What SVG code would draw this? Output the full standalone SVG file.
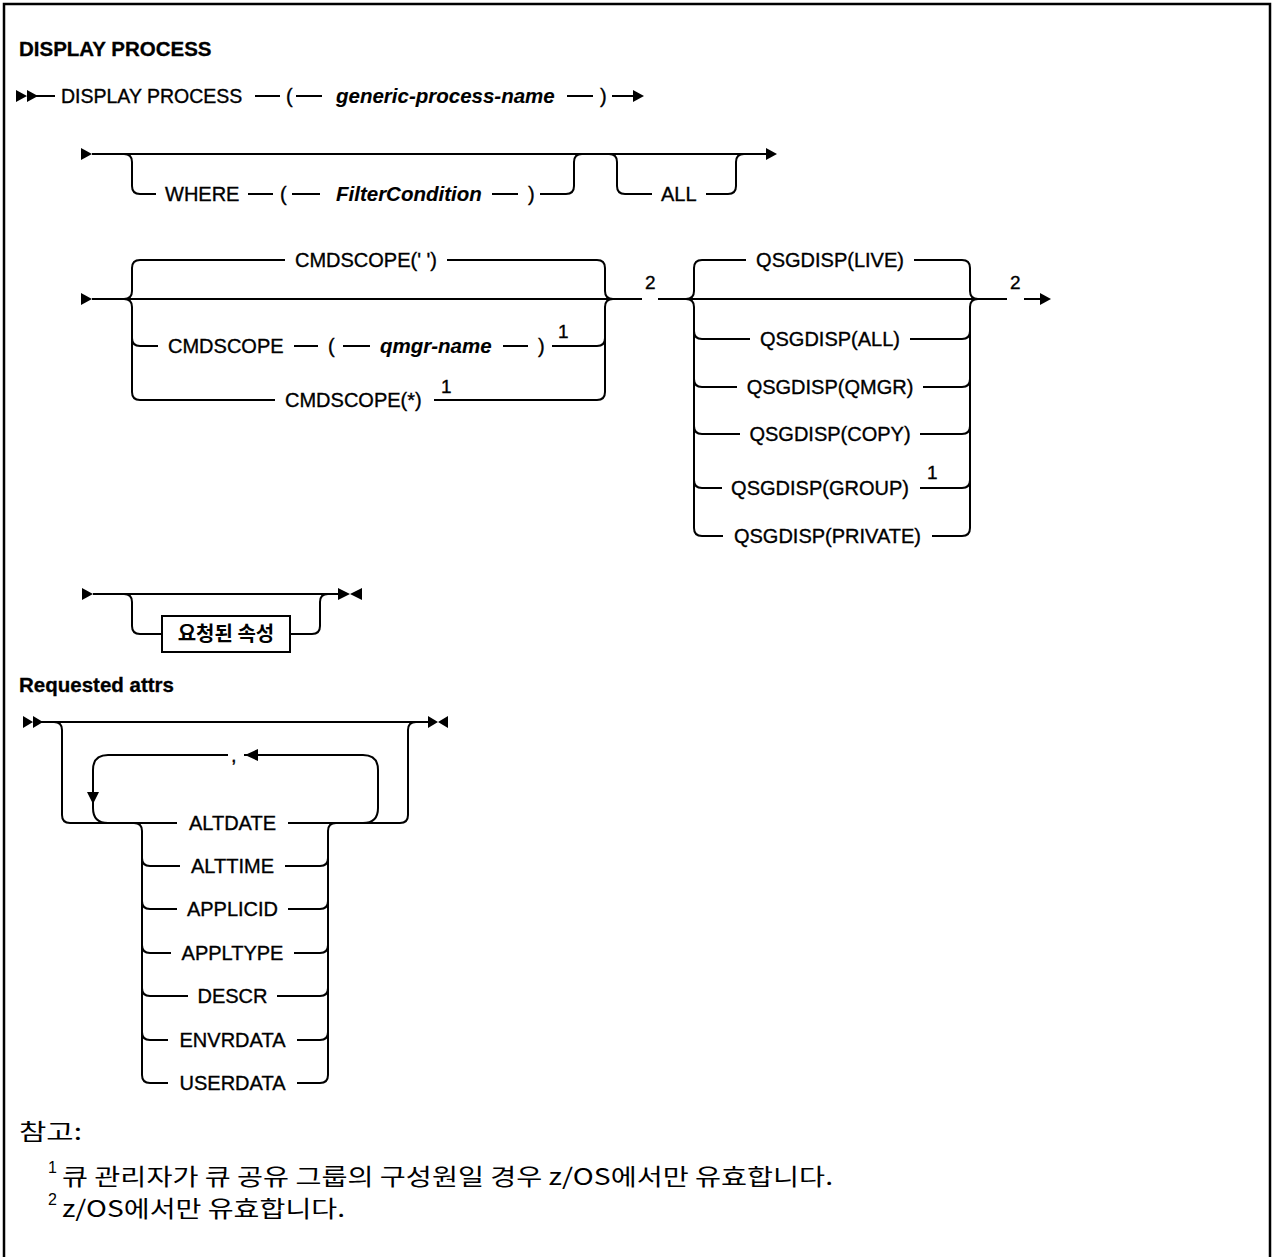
<svg xmlns="http://www.w3.org/2000/svg" width="1272" height="1257" viewBox="0 0 1272 1257">
<style>
.l{fill:none;stroke:#000;stroke-width:2}
.a{fill:#000;stroke:none}
.t{font-family:"Liberation Sans",Arial,sans-serif;font-size:20px;fill:#000;stroke:#000;stroke-width:0.35}
.c{text-anchor:middle}
.v{font-style:italic;font-weight:bold;font-size:20.5px;stroke-width:0.1}
.s{font-size:19px}
.h{font-family:"Liberation Sans",Arial,sans-serif;font-size:20.5px;font-weight:bold;fill:#000;stroke:#000;stroke-width:0.3}
.k{font-family:"Noto Sans CJK KR",sans-serif;font-size:23px;fill:#000}
.kb{font-family:"Noto Sans CJK KR",sans-serif;font-size:20px;font-weight:bold;fill:#000}
</style>
<rect width="1272" height="1257" fill="#fff"/>
<path d="M4,1257 V4 H1270 V1257" fill="none" stroke="#000" stroke-width="2.5"/>

<g id="title"><text class="h" x="19" y="56">DISPLAY PROCESS</text></g>

<g id="connectors">
  <!-- row 1 -->
  <path class="a" d="M16,90 L27,96 L16,102Z M27,90 L38,96 L27,102Z"/>
  <path class="l" d="M36,96 H55 M255,96 H280 M296,96 H322 M567,96 H593 M612,96 H634"/>
  <path class="a" d="M633,90 L644,96 L633,102Z"/>
  <!-- row 2 -->
  <path class="a" d="M81,148 L92,154 L81,160Z"/>
  <path class="l" d="M92,154 H767"/>
  <path class="a" d="M766,148 L777,154 L766,160Z"/>
  <path class="l" d="M124,154 Q132,154 132,162 V186 Q132,194 140,194 H156 M248,194 H273 M292,194 H320 M492,194 H518 M540,194 H566 Q574,194 574,186 V162 Q574,154 582,154"/>
  <path class="l" d="M609,154 Q617,154 617,162 V186 Q617,194 625,194 H652 M706,194 H728 Q736,194 736,186 V162 Q736,154 744,154"/>
  <!-- row 3 cmdscope -->
  <path class="a" d="M81,293 L92,299 L81,305Z"/>
  <path class="l" d="M92,299 H642 M658,299 H1007 M1024,299 H1040"/>
  <path class="a" d="M1040,293 L1051,299 L1040,305Z"/>
  <path class="l" d="M124,299 Q132,299 132,291 V268 Q132,260 140,260 H285 M447,260 H597 Q605,260 605,268 V291 Q605,299 613,299"/>
  <path class="l" d="M124,299 Q132,299 132,307 V392 Q132,400 140,400 H275 M132,338 Q132,346 140,346 H158"/>
  <path class="l" d="M294,346 H318 M343,346 H370 M503,346 H528 M552,346 H597 Q605,346 605,338 M434,400 H597 Q605,400 605,392 V307 Q605,299 613,299"/>
  <!-- qsgdisp -->
  <path class="l" d="M686,299 Q694,299 694,291 V268 Q694,260 702,260 H746 M914,260 H962 Q970,260 970,268 V291 Q970,299 978,299"/>
  <path class="l" d="M686,299 Q694,299 694,307 V528 Q694,536 702,536 H723 M694,331 Q694,339 702,339 H750 M694,379 Q694,387 702,387 H737 M694,426 Q694,434 702,434 H740 M694,480 Q694,488 702,488 H722"/>
  <path class="l" d="M978,299 Q970,299 970,307 V528 Q970,536 962,536 H932 M910,339 H962 Q970,339 970,331 M923,387 H962 Q970,387 970,379 M920,434 H962 Q970,434 970,426 M920,488 H962 Q970,488 970,480"/>
  <!-- row 4 -->
  <path class="a" d="M82,588 L93,594 L82,600Z"/>
  <path class="l" d="M93,594 H338"/>
  <path class="a" d="M338,588 L350,594 L338,600Z M362,588 L350,594 L362,600Z"/>
  <path class="l" d="M124,594 Q132,594 132,602 V626 Q132,634 140,634 H162 M290,634 H312 Q320,634 320,626 V602 Q320,594 328,594"/>
  <!-- requested attrs -->
  <path class="a" d="M23,716 L33,722 L23,728Z M33,716 L43,722 L33,728Z"/>
  <path class="l" d="M41,722 H428"/>
  <path class="a" d="M428,716 L438,722 L428,728Z M448,716 L438,722 L448,728Z"/>
  <path class="l" d="M54,722 Q62,722 62,730 V815 Q62,823 70,823 H177 M288,823 H400 Q408,823 408,815 V730 Q408,722 416,722"/>
  <path class="l" d="M363,823 Q378,823 378,808 V770 Q378,755 363,755 H244 M228,755 H108 Q93,755 93,770 V808 Q93,823 108,823"/>
  <path class="a" d="M245,755 L258,749 L258,761Z M87,792 L99,792 L93,804Z"/>
  <path class="l" d="M134,823 Q142,823 142,831 V1075 Q142,1083 150,1083 H168 M142,858 Q142,866 150,866 H180 M142,901 Q142,909 150,909 H177 M142,945 Q142,953 150,953 H171 M142,988 Q142,996 150,996 H188 M142,1032 Q142,1040 150,1040 H168"/>
  <path class="l" d="M336,823 Q328,823 328,831 V1075 Q328,1083 320,1083 H297 M285,866 H320 Q328,866 328,858 M288,909 H320 Q328,909 328,901 M294,953 H320 Q328,953 328,945 M277,996 H320 Q328,996 328,988 M297,1040 H320 Q328,1040 328,1032"/>
</g>

<g id="n-display"><text class="t" x="61" y="103" style="font-size:19.5px">DISPLAY PROCESS</text></g>
<g id="n-p1"><text class="t" x="286" y="103">(</text></g>
<g id="n-generic"><text class="t v" x="336" y="103">generic-process-name</text></g>
<g id="n-p2"><text class="t" x="600" y="103">)</text></g>

<g id="n-where"><text class="t" x="165" y="201">WHERE</text><text class="t" x="280" y="201">(</text><text class="t v" x="336" y="201">FilterCondition</text><text class="t" x="528" y="201">)</text></g>
<g id="n-all"><text class="t" x="661" y="201">ALL</text></g>

<g id="n-cmd-default"><text class="t c" x="366" y="267">CMDSCOPE(' ')</text></g>
<g id="n-cmd-qmgr"><text class="t" x="168" y="353">CMDSCOPE</text><text class="t" x="328" y="353">(</text><text class="t v" x="380" y="353">qmgr-name</text><text class="t" x="538" y="353">)</text><text class="t s" x="558" y="338">1</text></g>
<g id="n-cmd-star"><text class="t" x="285" y="407">CMDSCOPE(*)</text><text class="t s" x="441" y="393">1</text></g>
<g id="n-note2a"><text class="t s" x="645" y="289">2</text></g>

<g id="n-live"><text class="t c" x="830" y="267">QSGDISP(LIVE)</text></g>
<g id="n-qall"><text class="t c" x="830" y="346">QSGDISP(ALL)</text></g>
<g id="n-qmgr"><text class="t c" x="830" y="394">QSGDISP(QMGR)</text></g>
<g id="n-copy"><text class="t c" x="830" y="441">QSGDISP(COPY)</text></g>
<g id="n-group"><text class="t c" x="820" y="495">QSGDISP(GROUP)</text><text class="t s" x="927" y="479">1</text></g>
<g id="n-private"><text class="t c" x="827.5" y="543">QSGDISP(PRIVATE)</text></g>
<g id="n-note2b"><text class="t s" x="1010" y="289">2</text></g>

<g id="n-reqbox"><rect x="162" y="616" width="128" height="36" fill="#fff" stroke="#000" stroke-width="2"/><text class="kb c" x="226" y="641">요청된 속성</text></g>

<g id="req-title"><text class="h" x="19" y="692">Requested attrs</text></g>
<g id="n-comma"><text class="t" x="231" y="762">,</text></g>
<g id="n-altdate"><text class="t c" x="232.5" y="830">ALTDATE</text></g>
<g id="n-alttime"><text class="t c" x="232.5" y="873">ALTTIME</text></g>
<g id="n-applicid"><text class="t c" x="232.5" y="916">APPLICID</text></g>
<g id="n-appltype"><text class="t c" x="232.5" y="960">APPLTYPE</text></g>
<g id="n-descr"><text class="t c" x="232.5" y="1003">DESCR</text></g>
<g id="n-envrdata"><text class="t c" x="232.5" y="1047">ENVRDATA</text></g>
<g id="n-userdata"><text class="t c" x="232.5" y="1090">USERDATA</text></g>

<g id="notes">
  <text class="k" x="19" y="1140" textLength="63" lengthAdjust="spacingAndGlyphs">참고:</text>
  <text class="t" x="48" y="1173" style="font-size:16px;stroke-width:0">1</text>
  <text class="k" x="62" y="1185" textLength="771" lengthAdjust="spacingAndGlyphs">큐 관리자가 큐 공유 그룹의 구성원일 경우 z/OS에서만 유효합니다.</text>
  <text class="t" x="48" y="1205" style="font-size:16px;stroke-width:0">2</text>
  <text class="k" x="62" y="1217" textLength="283" lengthAdjust="spacingAndGlyphs">z/OS에서만 유효합니다.</text>
</g>
</svg>
